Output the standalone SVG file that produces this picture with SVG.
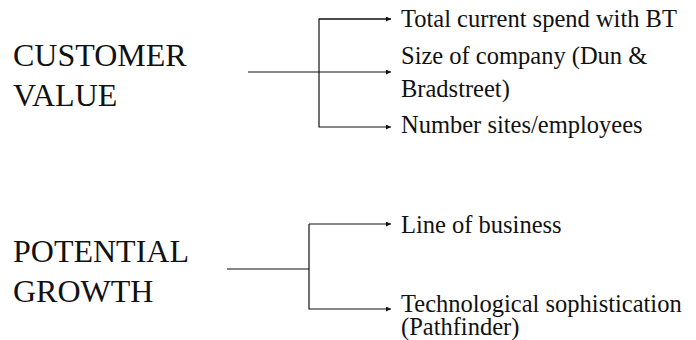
<svg xmlns="http://www.w3.org/2000/svg" width="696" height="340" viewBox="0 0 696 340">
  <style>
    .big { font-size: 32px; }
    .item { font-size: 24.5px; }
    .wire { fill: none; stroke: #111; stroke-width: 1.2; }
  </style>
  <defs>
    <marker id="tip" viewBox="0 0 10 10" refX="10" refY="5" markerWidth="5" markerHeight="5" orient="auto" markerUnits="userSpaceOnUse">
      <path d="M0,0 L10,5 L0,10 z" fill="#111"/>
    </marker>
  </defs>

  <rect width="696" height="340" fill="#fff"/>

  <!-- connectors -->
  <g id="connectors">
    <path class="wire" d="M248,72 H319"/>
    <path class="wire" d="M391,19 H319 V127 H391" marker-end="url(#tip)"/>
    <path class="wire" d="M319,19 H391" marker-end="url(#tip)"/>
    <path class="wire" d="M319,72 H391" marker-end="url(#tip)"/>
    <path class="wire" d="M227,269 H309"/>
    <path class="wire" d="M309,224 V309 H391" marker-end="url(#tip)"/>
    <path class="wire" d="M309,224 H391" marker-end="url(#tip)"/>
  </g>

  <g font-family="Liberation Serif, DejaVu Serif, serif" fill="#111">
    <!-- source categories -->
    <g id="customer-value">
      <text class="big" x="13" y="66">CUSTOMER</text>
      <text class="big" x="13" y="106">VALUE</text>
    </g>
    <g id="potential-growth">
      <text class="big" x="13" y="262">POTENTIAL</text>
      <text class="big" x="13" y="302">GROWTH</text>
    </g>

    <!-- measures -->
    <g id="total-spend">
      <text class="item" x="401" y="27">Total current spend with BT</text>
    </g>
    <g id="company-size">
      <text class="item" x="401" y="64">Size of company (Dun &amp;</text>
      <text class="item" x="401" y="97">Bradstreet)</text>
    </g>
    <g id="sites-employees">
      <text class="item" x="401" y="133">Number sites/employees</text>
    </g>
    <g id="line-of-business">
      <text class="item" x="401" y="233">Line of business</text>
    </g>
    <g id="tech-sophistication">
      <text class="item" x="401" y="312">Technological sophistication</text>
      <text class="item" x="401" y="335">(Pathfinder)</text>
    </g>
  </g>
</svg>
